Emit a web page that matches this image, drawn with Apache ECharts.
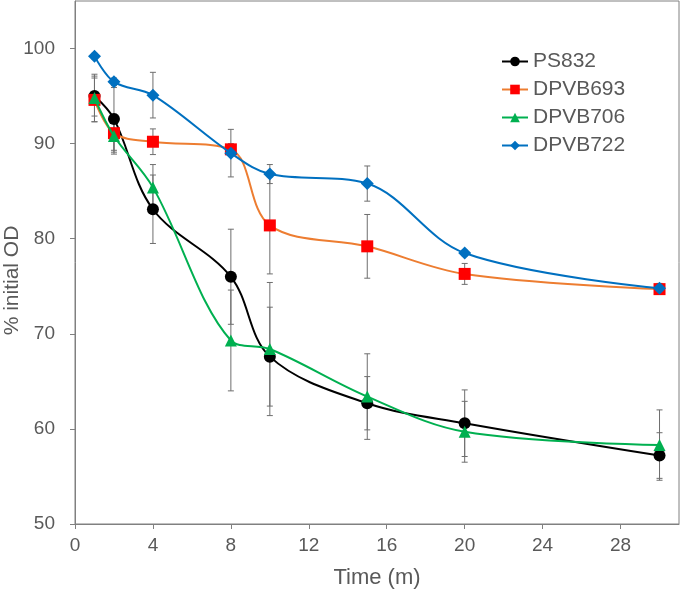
<!DOCTYPE html>
<html><head><meta charset="utf-8">
<script src="https://cdn.jsdelivr.net/npm/echarts@6/dist/echarts.min.js"></script>
<style>html,body{margin:0;padding:0;background:#fff}#c{width:680px;height:592px}</style>
</head><body><div id="c"></div><script>
const times = [1, 2, 4, 8, 10, 15, 20, 30];
const seriesNames = ['PS832', 'DPVB693', 'DPVB706', 'DPVB722'];
const ps832 = [95.0, 92.6, 83.1, 76.0, 67.6, 62.7, 60.6, 57.2];
const ps832Err = [2.1, 3.3, 3.6, 5.0, 5.2, 2.8, 3.5, 2.4];
const dpvb693 = [94.6, 91.1, 90.2, 89.4, 81.4, 79.2, 76.3, 74.7];
const dpvb693Err = [2.3, 2.0, 1.35, 0.6, 5.1, 3.35, 1.1, 0.5];
const dpvb706 = [94.8, 90.8, 85.4, 69.3, 68.4, 63.4, 59.7, 58.3];
const dpvb706Err = [2.5, 1.9, 2.4, 5.3, 7.0, 4.5, 3.2, 3.7];
const dpvb722 = [99.2, 96.5, 95.1, 89.0, 86.8, 85.8, 78.5, 74.8];
const dpvb722Err = [0.3, 0.4, 2.4, 2.5, 1.0, 1.85, 0.3, 0.5];
const xTicks = [0, 4, 8, 12, 16, 20, 24, 28];
const yTicks = [50, 60, 70, 80, 90, 100];

const values = [ps832, dpvb693, dpvb706, dpvb722];
const errors = [ps832Err, dpvb693Err, dpvb706Err, dpvb722Err];
const symbols = ['circle', 'rect', 'triangle', 'diamond'];
const markerColors = ['#000000', '#FF0000', '#00B050', '#0070C0'];
const lineColors = ['#000000', '#ED7D31', '#00B050', '#0070C0'];
const symbolSizes = [12, 12, 12, 13];
const font = '"Liberation Sans", Arial, sans-serif';
const textColor = '#595959';
const axisColor = '#808080';

function renderErr(params, api) {
  const x = api.value(0), lo = api.value(1), hi = api.value(2);
  const p0 = api.coord([x, lo]), p1 = api.coord([x, hi]);
  const w = 3;
  const style = { stroke: '#6e6e6e', lineWidth: 1 };
  return { type: 'group', children: [
    { type: 'line', shape: { x1: p0[0], y1: p0[1], x2: p1[0], y2: p1[1] }, style },
    { type: 'line', shape: { x1: p0[0] - w, y1: p0[1], x2: p0[0] + w, y2: p0[1] }, style },
    { type: 'line', shape: { x1: p1[0] - w, y1: p1[1], x2: p1[0] + w, y2: p1[1] }, style }
  ]};
}

const series = [];
seriesNames.forEach((name, k) => {
  series.push({
    name: name + ' err', type: 'custom', renderItem: renderErr, z: 1,
    encode: { x: 0, y: [1, 2] },
    data: times.map((t, i) => [t, values[k][i] - errors[k][i], values[k][i] + errors[k][i]]),
    silent: true
  });
});
seriesNames.forEach((name, k) => {
  series.push({
    name, type: 'line', z: 2 + k, smooth: 0.35,
    symbol: symbols[k], symbolSize: symbolSizes[k], showSymbol: true,
    itemStyle: { color: markerColors[k], opacity: 1 },
    lineStyle: { color: lineColors[k], width: 2 },
    data: times.map((t, i) => [t, values[k][i]]),
    animation: false
  });
});

const chart = echarts.init(document.getElementById('c'), null, { renderer: 'canvas' });
chart.setOption({
  animation: false,
  backgroundColor: '#fff',
  textStyle: { fontFamily: font },
  grid: { left: 75, right: 1, top: 1, bottom: 68, show: true, borderColor: axisColor, borderWidth: 1, containLabel: false, outerBoundsMode: 'none' },
  legend: {
    data: seriesNames, orient: 'vertical', left: 501, top: 51,
    itemWidth: 26, itemHeight: 12, itemGap: 7, padding: 0,
    textStyle: { fontSize: 21, color: textColor, fontFamily: font }
  },
  xAxis: {
    type: 'value', min: 0, max: 31, interval: 4,
    axisLine: { show: true, onZero: false, lineStyle: { color: axisColor, width: 1 } },
    axisTick: { show: true, length: 5, customValues: xTicks, lineStyle: { color: axisColor } },
    axisLabel: { customValues: xTicks, color: textColor, fontSize: 19, margin: 12, fontFamily: font },
    splitLine: { show: false },
    name: 'Time (m)', nameLocation: 'middle', nameGap: 43, nameMoveOverlap: false,
    nameTextStyle: { fontSize: 22, color: textColor, fontFamily: font }
  },
  yAxis: {
    type: 'value', min: 50, max: 105, interval: 10,
    axisLine: { show: true, onZero: false, lineStyle: { color: axisColor, width: 1 } },
    axisTick: { show: true, length: 5, customValues: yTicks, lineStyle: { color: axisColor } },
    axisLabel: { customValues: yTicks, color: textColor, fontSize: 19, margin: 20, fontFamily: font },
    splitLine: { show: false },
    name: '% initial OD', nameLocation: 'middle', nameGap: 52, nameMoveOverlap: false,
    nameTextStyle: { fontSize: 21, color: textColor, fontFamily: font, padding: [0, 36, 0, 0] }
  },
  series
});
</script></body></html>
